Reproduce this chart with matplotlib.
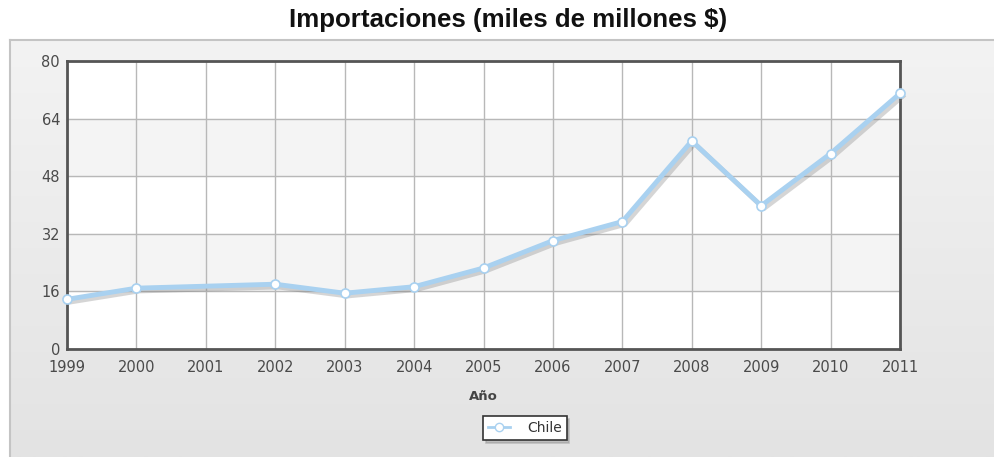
import numpy as np
import matplotlib
matplotlib.use("Agg")
import matplotlib.pyplot as plt
import matplotlib.patheffects as pe
from matplotlib import font_manager
from matplotlib.lines import Line2D

# Chile imports, billions of dollars (no value reported for 2001)
years = [1999, 2000, 2002, 2003, 2004, 2005, 2006, 2007, 2008, 2009, 2010, 2011]
imports = [13.8, 16.9, 18.0, 15.5, 17.3, 22.5, 30.1, 35.4, 57.8, 39.8, 54.3, 71.0]
tick_years = list(range(1999, 2012))
y_ticks = [0, 16, 32, 48, 64, 80]


def bold_sans():
    # pick the regular-width Liberation Sans bold file, not the narrow one
    for path in font_manager.findSystemFonts():
        if path.endswith("LiberationSans-Bold.ttf"):
            return font_manager.FontProperties(fname=path)
    return font_manager.FontProperties(family="DejaVu Sans", weight="bold")


W, H = 994, 457
fig = plt.figure(figsize=(W / 100, H / 100), dpi=100)
fig.patch.set_facecolor("white")

# grey panel behind the chart, vertical gradient
bg = fig.add_axes([10 / W, 0, 1 - 10 / W, (H - 40) / H])
grad = np.linspace(0, 1, 256).reshape(-1, 1)
bg.imshow(grad, aspect="auto", cmap=matplotlib.colors.LinearSegmentedColormap.from_list(
    "panel", ["#f3f3f3", "#e3e3e3"]), extent=[0, 1, 0, 1], origin="upper")
bg.set_xlim(0, 1)
bg.set_ylim(0, 1)
bg.set_xticks([])
bg.set_yticks([])
for side in ("right", "bottom"):
    bg.spines[side].set_visible(False)
for side in ("left", "top"):
    bg.spines[side].set_color("#c4c4c4")
    bg.spines[side].set_linewidth(1.5)

title_font = bold_sans()
title_font.set_size(18.6)
fig.text(508 / W, 1 - 20 / H, "Importaciones (miles de millones $)",
         ha="center", va="center", fontproperties=title_font, color="#111111")

left, right, top, bottom = 67, 900, 61, 349
ax = fig.add_axes([left / W, (H - bottom) / H, (right - left) / W, (bottom - top) / H])
ax.set_facecolor("white")
ax.set_xlim(1999, 2011)
ax.set_ylim(0, 80)

# alternate shaded bands
for i in range(len(y_ticks) - 1):
    if i % 2 == 1:
        ax.axhspan(y_ticks[i], y_ticks[i + 1], color="#f4f4f4", zorder=0)

ax.set_xticks(tick_years)
ax.set_yticks(y_ticks)
ax.grid(True, color="#b8b8b8", linewidth=1.0, zorder=1)
ax.set_axisbelow(True)
for sp in ax.spines.values():
    sp.set_color("#555555")
    sp.set_linewidth(2.0)
ax.tick_params(length=0, labelsize=10.5, labelcolor="#4a4a4a", pad=5)
ax.tick_params(axis="x", pad=8)

ax.plot(years, imports, color="#a9d1f0", linewidth=3.5, zorder=3, clip_on=False,
        solid_joinstyle="round",
        path_effects=[pe.SimpleLineShadow(offset=(2, -2), shadow_color="#777777", alpha=0.3),
                      pe.Normal()])
ax.plot(years, imports, linestyle="none", marker="o", markersize=6.5,
        markerfacecolor="white", markeredgecolor="#a9d1f0", markeredgewidth=1.2,
        zorder=4, clip_on=False)

ax.set_xlabel("Año", fontsize=9.5, fontweight="bold", color="#444444", labelpad=11)

handle = Line2D([], [], color="#a9d1f0", linewidth=2, marker="o", markersize=6,
                markerfacecolor="white", markeredgecolor="#a9d1f0")
leg = fig.legend([handle], ["Chile"], loc="center", bbox_to_anchor=(525 / W, 1 - 428 / H),
                 fontsize=10, frameon=True, fancybox=False, shadow={"color": "#999999", "alpha": 0.5},
                 handlelength=1.6, handletextpad=1.2, borderpad=0.35)
leg.get_frame().set_edgecolor("#333333")
leg.get_frame().set_linewidth(1.2)
for t in leg.get_texts():
    t.set_color("#333333")

fig.savefig("out.png", dpi=100)
